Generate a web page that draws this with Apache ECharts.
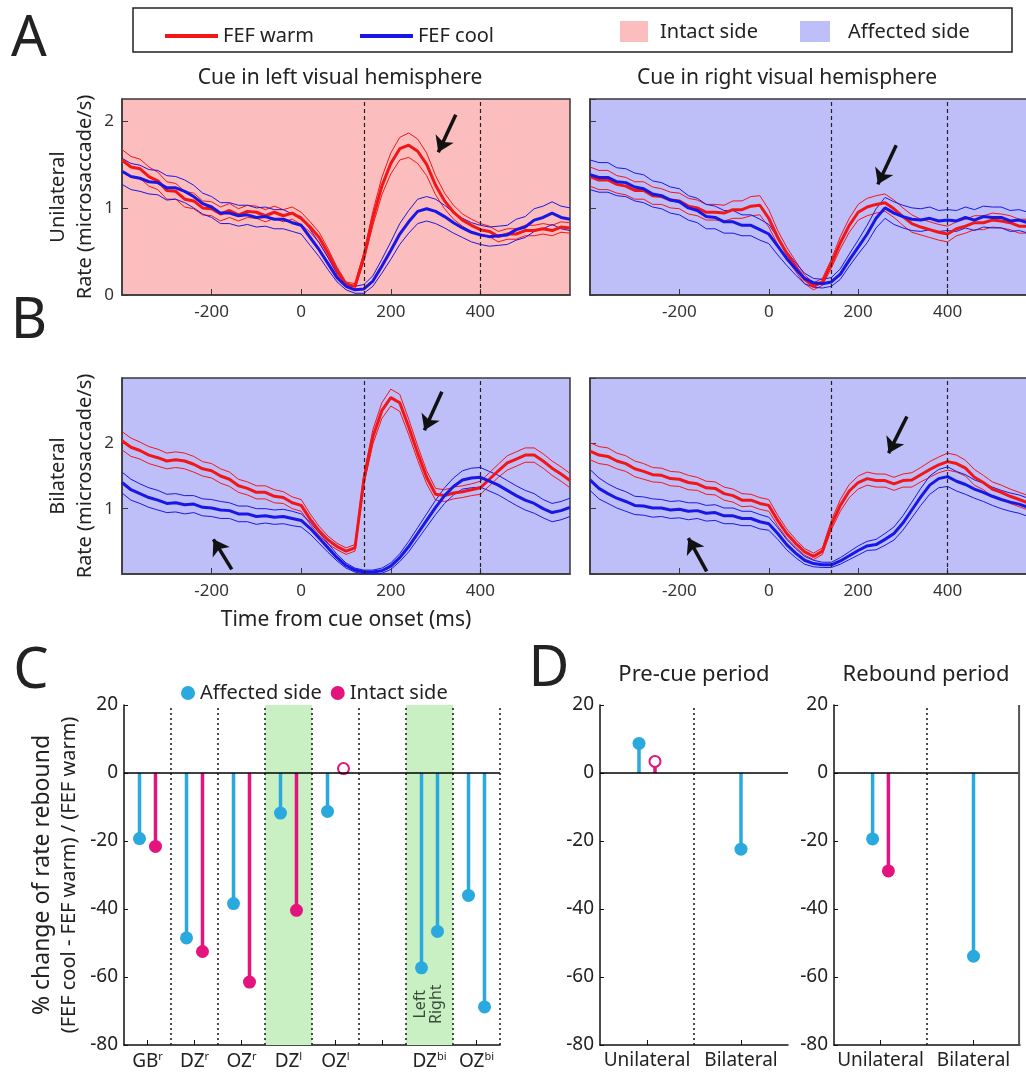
<!DOCTYPE html>
<html>
<head>
<meta charset="utf-8">
<script src="https://cdn.jsdelivr.net/npm/echarts@6/dist/echarts.min.js"></script>
<style>
  html, body { margin: 0; padding: 0; background: #fff; overflow: hidden; }
  #main { width: 1026px; height: 1073px; }
</style>
</head>
<body>
<div id="main"></div>
<script>
// sample times (ms from cue onset)
var timeMs = [
  -400,-380,-360,-340,-320,-300,-280,-260,-240,-220,
  -200,-180,-160,-140,-120,-100,-80,-60,-40,-20,
  0,20,40,60,80,100,120,140,160,180,
  200,220,240,260,280,300,320,340,360,380,
  400,420,440,460,480,500,520,540,560,580,
  600
];

// A, cue left (unilateral): mean rate and SEM
var warmAL = [
  1.55,1.47,1.45,1.36,1.31,1.20,1.19,1.10,1.08,1.00,
  0.99,0.93,0.97,0.92,0.96,0.95,0.91,0.95,0.91,0.94,
  0.88,0.78,0.66,0.48,0.28,0.12,0.10,0.44,0.88,1.25,
  1.51,1.68,1.72,1.65,1.50,1.26,1.08,0.95,0.86,0.80,
  0.75,0.73,0.67,0.70,0.70,0.74,0.74,0.76,0.74,0.78,
  0.77
];
var semWarmAL = [
  0.12,0.12,0.11,0.11,0.10,0.10,0.09,0.09,0.09,0.08,
  0.08,0.08,0.08,0.07,0.07,0.07,0.07,0.07,0.07,0.07,
  0.07,0.06,0.06,0.05,0.04,0.03,0.03,0.05,0.08,0.10,
  0.12,0.13,0.14,0.14,0.13,0.11,0.09,0.08,0.07,0.07,
  0.07,0.06,0.06,0.06,0.06,0.06,0.06,0.06,0.06,0.06,
  0.06
];
var coolAL = [
  1.42,1.36,1.34,1.30,1.29,1.23,1.23,1.19,1.13,1.05,
  1.01,0.94,0.94,0.91,0.92,0.89,0.90,0.87,0.87,0.83,
  0.80,0.66,0.52,0.36,0.20,0.10,0.06,0.07,0.16,0.33,
  0.51,0.70,0.84,0.96,0.99,0.96,0.90,0.83,0.77,0.72,
  0.69,0.67,0.68,0.69,0.75,0.78,0.86,0.89,0.94,0.89,
  0.87
];
var semCoolAL = [
  0.15,0.15,0.15,0.14,0.14,0.14,0.13,0.13,0.13,0.12,
  0.12,0.12,0.12,0.12,0.11,0.11,0.11,0.11,0.11,0.10,
  0.10,0.09,0.08,0.07,0.05,0.04,0.04,0.05,0.06,0.08,
  0.10,0.12,0.13,0.14,0.14,0.14,0.13,0.12,0.11,0.11,
  0.11,0.11,0.11,0.11,0.12,0.12,0.13,0.13,0.13,0.13,
  0.13
];

// A, cue right (unilateral)
var warmAR = [
  1.36,1.32,1.32,1.27,1.25,1.20,1.20,1.14,1.13,1.09,
  1.08,1.02,1.00,0.95,0.95,0.94,0.98,0.98,1.02,1.03,
  0.88,0.66,0.48,0.33,0.18,0.10,0.15,0.36,0.60,0.80,
  0.95,1.01,1.04,1.06,0.99,0.90,0.82,0.78,0.75,0.72,
  0.70,0.76,0.79,0.83,0.83,0.86,0.85,0.83,0.79,0.79,
  0.76
];
var semWarmAR = [
  0.11,0.11,0.11,0.10,0.10,0.10,0.10,0.10,0.09,0.09,
  0.09,0.09,0.09,0.09,0.09,0.09,0.10,0.10,0.11,0.11,
  0.10,0.08,0.07,0.06,0.05,0.04,0.04,0.05,0.07,0.08,
  0.09,0.10,0.10,0.10,0.10,0.10,0.10,0.09,0.09,0.09,
  0.09,0.08,0.08,0.08,0.08,0.08,0.08,0.08,0.08,0.08,
  0.08
];
var coolAR = [
  1.38,1.35,1.35,1.30,1.29,1.24,1.22,1.16,1.14,1.09,
  1.07,1.00,0.97,0.90,0.89,0.84,0.84,0.80,0.80,0.75,
  0.70,0.56,0.42,0.30,0.19,0.14,0.13,0.15,0.24,0.40,
  0.55,0.70,0.88,1.00,0.94,0.90,0.87,0.86,0.88,0.85,
  0.86,0.85,0.89,0.86,0.90,0.89,0.89,0.85,0.86,0.83,
  0.83
];
var semCoolAR = [
  0.17,0.17,0.17,0.16,0.16,0.16,0.16,0.15,0.15,0.15,
  0.15,0.14,0.14,0.14,0.13,0.13,0.13,0.12,0.12,0.12,
  0.11,0.10,0.08,0.07,0.06,0.05,0.05,0.05,0.06,0.07,
  0.08,0.10,0.11,0.12,0.13,0.13,0.13,0.13,0.13,0.12,
  0.12,0.12,0.12,0.12,0.12,0.12,0.12,0.12,0.12,0.12,
  0.12
];

// B, cue left (bilateral)
var warmBL = [
  2.04,1.94,1.89,1.82,1.78,1.73,1.75,1.73,1.68,1.61,
  1.58,1.50,1.45,1.35,1.31,1.25,1.25,1.19,1.17,1.09,
  1.05,0.84,0.66,0.52,0.42,0.35,0.40,1.45,2.10,2.50,
  2.70,2.62,2.25,1.85,1.48,1.22,1.20,1.24,1.26,1.29,
  1.32,1.45,1.58,1.70,1.76,1.82,1.82,1.73,1.62,1.53,
  1.43
];
var semWarmBL = [
  0.14,0.14,0.13,0.13,0.13,0.12,0.12,0.12,0.12,0.11,
  0.11,0.11,0.11,0.10,0.10,0.10,0.10,0.10,0.09,0.09,
  0.09,0.08,0.07,0.06,0.05,0.05,0.05,0.08,0.11,0.12,
  0.13,0.13,0.12,0.11,0.10,0.09,0.09,0.09,0.09,0.09,
  0.10,0.10,0.10,0.11,0.11,0.11,0.11,0.11,0.11,0.11,
  0.11
];
var coolBL = [
  1.40,1.29,1.23,1.17,1.13,1.08,1.09,1.06,1.07,1.02,
  1.01,0.98,0.97,0.92,0.92,0.88,0.89,0.87,0.88,0.85,
  0.82,0.70,0.55,0.40,0.25,0.13,0.06,0.03,0.03,0.05,
  0.12,0.25,0.42,0.62,0.82,1.02,1.20,1.34,1.44,1.47,
  1.48,1.42,1.36,1.28,1.20,1.13,1.08,1.00,0.94,0.97,
  1.02
];
var semCoolBL = [
  0.16,0.16,0.15,0.15,0.15,0.14,0.14,0.14,0.13,0.13,
  0.13,0.13,0.12,0.12,0.12,0.12,0.11,0.11,0.11,0.11,
  0.10,0.09,0.08,0.07,0.05,0.04,0.03,0.03,0.03,0.04,
  0.05,0.06,0.08,0.09,0.10,0.11,0.12,0.13,0.14,0.15,
  0.15,0.15,0.15,0.15,0.15,0.15,0.15,0.14,0.14,0.14,
  0.14
];

// B, cue right (bilateral)
var warmBR = [
  1.88,1.82,1.80,1.73,1.69,1.61,1.57,1.52,1.51,1.46,
  1.45,1.40,1.38,1.32,1.31,1.23,1.20,1.13,1.13,1.08,
  1.05,0.82,0.62,0.47,0.34,0.27,0.35,0.75,1.05,1.27,
  1.40,1.46,1.43,1.43,1.38,1.43,1.44,1.52,1.60,1.67,
  1.72,1.69,1.62,1.48,1.40,1.30,1.25,1.19,1.14,1.09,
  1.05
];
var semWarmBR = [
  0.13,0.13,0.13,0.12,0.12,0.12,0.12,0.11,0.11,0.11,
  0.11,0.11,0.10,0.10,0.10,0.10,0.10,0.10,0.09,0.09,
  0.09,0.08,0.07,0.06,0.05,0.05,0.05,0.07,0.09,0.10,
  0.10,0.10,0.10,0.10,0.10,0.10,0.11,0.11,0.12,0.12,
  0.13,0.13,0.12,0.12,0.11,0.11,0.11,0.11,0.11,0.11,
  0.11
];
var coolBR = [
  1.44,1.31,1.23,1.16,1.11,1.05,1.04,1.01,1.01,0.98,
  0.99,0.96,0.97,0.93,0.94,0.89,0.89,0.85,0.85,0.80,
  0.77,0.62,0.45,0.32,0.21,0.16,0.14,0.14,0.20,0.28,
  0.36,0.43,0.45,0.53,0.62,0.78,0.98,1.18,1.36,1.46,
  1.49,1.42,1.37,1.30,1.25,1.19,1.14,1.10,1.07,1.02,
  0.98
];
var semCoolBR = [
  0.16,0.16,0.15,0.15,0.15,0.14,0.14,0.14,0.13,0.13,
  0.13,0.13,0.12,0.12,0.12,0.12,0.12,0.11,0.11,0.11,
  0.10,0.09,0.08,0.07,0.06,0.05,0.04,0.04,0.05,0.06,
  0.07,0.07,0.08,0.09,0.10,0.11,0.12,0.13,0.14,0.14,
  0.15,0.15,0.15,0.14,0.14,0.14,0.14,0.14,0.14,0.14,
  0.14
];

// arrows: [fromMs, fromRate, toMs, toRate]
var arrowsAL = [[345, 2.07, 306, 1.64]];
var arrowsAR = [[285, 1.72, 244, 1.27]];
var arrowsBL = [[314, 2.79, 275, 2.20], [-155, 0.07, -196, 0.53]];
var arrowsBR = [[309, 2.41, 268, 1.85], [-139, 0.04, -180, 0.55]];
var markTimes = [140, 400];

// C: % change of rate rebound
var cBase = ['GB', 'DZ', 'OZ', 'DZ', 'OZ', '', 'DZ', 'OZ'];
var cSup = ['r', 'r', 'r', 'l', 'l', '', 'bi', 'bi'];
var cAffX = [0.33, 1.33, 2.33, 3.33, 4.33, 6.33, 6.67, 7.33, 7.67];
var cAffY = [-19.3, -48.5, -38.4, -11.8, -11.3, -57.3, -46.6, -36.0, -68.8];
var cIntX = [0.67, 1.67, 2.67, 3.67, 4.67];
var cIntY = [-21.6, -52.5, -61.5, -40.4, 1.3];
var cIntOpen = [false, false, false, false, true];
var cBands = [[3, 4], [6, 7]];
var cSides = [['Left', 6.31, -68], ['Right', 6.64, -68]];

// D: pre-cue and rebound periods
var dCats = ['Unilateral', 'Bilateral'];
var dPreAffX = [0.83, 3.0], dPreAffY = [8.7, -22.4];
var dPreIntX = [1.17], dPreIntY = [3.4], dPreIntOpen = [true];
var dRebAffX = [0.83, 3.0], dRebAffY = [-19.4, -53.9];
var dRebIntX = [1.17], dRebIntY = [-28.8], dRebIntOpen = [false];

var FONT = '"Noto Sans", "DejaVu Sans", sans-serif';
var INK = '#222';
var RED = '#f41616', BLUE = '#1818e6';
var CYAN = '#2aa9de', MAGENTA = '#e3147d';
var PINK = '#fbbdbd', LAVENDER = '#bebef9', GREEN = '#c9f0c3';

function pairs(xs, ys) {
  return xs.map(function (x, i) { return [x, ys[i]]; });
}
function offset(mean, sem, sign) {
  return mean.map(function (m, i) { return +(m + sign * sem[i]).toFixed(3); });
}

var timePanels = [
  { left: 122, top: 99, width: 448, bg: PINK, yMax: 2.25, yLabels: true, zeroLabel: true, yName: 'Unilateral\nRate (microsaccade/s)',
    warm: warmAL, warmSem: semWarmAL, cool: coolAL, coolSem: semCoolAL, arrows: arrowsAL },
  { left: 590, top: 99, width: 447, bg: LAVENDER, yMax: 2.25, yLabels: false,
    warm: warmAR, warmSem: semWarmAR, cool: coolAR, coolSem: semCoolAR, arrows: arrowsAR },
  { left: 122, top: 378, width: 448, bg: LAVENDER, yMax: 3, yLabels: true, zeroLabel: false, yName: 'Bilateral\nRate (microsaccade/s)',
    xName: 'Time from cue onset (ms)',
    warm: warmBL, warmSem: semWarmBL, cool: coolBL, coolSem: semCoolBL, arrows: arrowsBL },
  { left: 590, top: 378, width: 447, bg: LAVENDER, yMax: 3, yLabels: false,
    warm: warmBR, warmSem: semWarmBR, cool: coolBR, coolSem: semCoolBR, arrows: arrowsBR }
];

var grids = [], xAxes = [], yAxes = [], series = [];

function bandSeries(name, color, mean, sem, k, withMarks) {
  var out = [];
  [1, -1, 0].forEach(function (sign) {
    out.push({
      type: 'line', name: name, xAxisIndex: k, yAxisIndex: k,
      symbol: 'none', silent: true,
      data: pairs(timeMs, sign === 0 ? mean : offset(mean, sem, sign)),
      itemStyle: { color: color },
      lineStyle: { color: color, width: sign === 0 ? 3 : 1 },
      z: sign === 0 ? 4 : 3
    });
  });
  if (withMarks) {
    out[2].markLine = {
      silent: true, symbol: 'none', label: { show: false },
      lineStyle: { color: '#222', type: [4, 3], width: 1.2 },
      data: markTimes.map(function (t) { return { xAxis: t }; })
    };
  }
  return out;
}

timePanels.forEach(function (p, k) {
  grids.push({
    left: p.left, top: p.top, width: p.width, height: 196,
    show: true, backgroundColor: p.bg, borderColor: '#3a3a3a', borderWidth: 1.5,
    outerBoundsMode: 'none'
  });
  xAxes.push({
    type: 'value', gridIndex: k, min: -400, max: 600, interval: 200,
    axisLine: { show: true, onZero: false, lineStyle: { color: '#3a3a3a', width: 1.5 } },
    axisTick: { inside: true, length: 6, lineStyle: { color: '#3a3a3a' } },
    axisLabel: { showMinLabel: false, showMaxLabel: false, fontSize: 17, color: '#333', fontFamily: FONT, margin: 9 },
    splitLine: { show: false },
    name: p.xName || '', nameLocation: 'middle', nameGap: 36,
    nameTextStyle: { fontSize: 21, color: INK, fontFamily: FONT }
  });
  yAxes.push({
    type: 'value', gridIndex: k, min: 0, max: p.yMax, interval: 1,
    axisLine: { show: true, onZero: false, lineStyle: { color: '#3a3a3a', width: 1.5 } },
    axisTick: { inside: true, length: 6, lineStyle: { color: '#3a3a3a' } },
    axisLabel: { show: p.yLabels, showMinLabel: !!p.zeroLabel, showMaxLabel: false, fontSize: 17, color: '#333', fontFamily: FONT, margin: 8 },
    splitLine: { show: false },
    name: p.yName || '', nameLocation: 'middle', nameRotate: 90, nameGap: 23,
    nameTextStyle: { fontSize: 20, lineHeight: 27, color: INK, fontFamily: FONT, align: 'center' }
  });
  series = series.concat(bandSeries('FEF warm', RED, p.warm, p.warmSem, k, true));
  series = series.concat(bandSeries('FEF cool', BLUE, p.cool, p.coolSem, k, false));
  series.push({
    type: 'lines', coordinateSystem: 'cartesian2d', xAxisIndex: k, yAxisIndex: k,
    silent: true, symbol: ['none', 'arrow'], symbolSize: 15, z: 6,
    lineStyle: { color: '#111', width: 3.5, opacity: 1 },
    data: p.arrows.map(function (a) { return { coords: [[a[0], a[1]], [a[2], a[3]]] }; })
  });
});

// lollipop panels
var lolliPanels = [
  { left: 124, width: 376, slots: 8, cats: cBase, supFmt: true,
    affX: cAffX, affY: cAffY, intX: cIntX, intY: cIntY, intOpen: cIntOpen,
    seps: [1, 2, 3, 4, 5, 6, 7, 8], bands: cBands, yName: true },
  { left: 600, width: 188, slots: 4, cats: dCats,
    affX: dPreAffX, affY: dPreAffY, intX: dPreIntX, intY: dPreIntY, intOpen: dPreIntOpen,
    seps: [2], bands: [] },
  { left: 834, width: 186, slots: 4, cats: dCats,
    affX: dRebAffX, affY: dRebAffY, intX: dRebIntX, intY: dRebIntY, intOpen: dRebIntOpen,
    seps: [2], bands: [], rightBorder: true }
];

function stemSeries(color, xs, ys, xi, yi) {
  return {
    type: 'custom', xAxisIndex: xi, yAxisIndex: yi, silent: true, z: 3,
    data: pairs(xs, ys),
    renderItem: function (params, api) {
      var a = api.coord([api.value(0), 0]);
      var b = api.coord([api.value(0), api.value(1)]);
      return { type: 'line', shape: { x1: a[0], y1: a[1], x2: b[0], y2: b[1] },
               style: { stroke: color, lineWidth: 3.5 } };
    }
  };
}

function frameSeries(xi, yi, xv) {
  // right frame line: from the axis bottom (-80) to top (20) at x = xv
  return {
    type: 'custom', xAxisIndex: xi, yAxisIndex: yi, silent: true, z: 6, clip: false,
    data: [[xv - 0.02, -80]],
    renderItem: function (params, api) {
      var a = api.coord([api.value(0), api.value(1)]);
      var b = api.coord([api.value(0), 20]);
      return { type: 'line', shape: { x1: a[0], y1: a[1], x2: b[0], y2: b[1] },
               style: { stroke: '#555', lineWidth: 2 } };
    }
  };
}

function dotData(xs, ys, open, color) {
  return xs.map(function (x, i) {
    if (open && open[i]) {
      return { value: [x, ys[i]], symbolSize: 11, itemStyle: { color: '#fff', borderColor: color, borderWidth: 2 } };
    }
    return [x, ys[i]];
  });
}

lolliPanels.forEach(function (p) {
  var g = grids.length;
  grids.push({ left: p.left, top: 705, width: p.width, height: 340, show: false, outerBoundsMode: 'none' });
  xAxes.push({
    type: 'category', gridIndex: g,
    data: p.cats.map(function (c, i) { return p.supFmt ? ((c + cSup[i]) || ('gap' + i)) : c; }),
    boundaryGap: true,
    axisLine: { show: true, onZero: false, lineStyle: { color: '#111', width: 1.5 } },
    axisTick: { show: true, inside: true, alignWithLabel: true, length: 5, lineStyle: { color: '#111' } },
    axisLabel: {
      interval: 0, fontSize: 19, color: INK, fontFamily: FONT, margin: 6,
      formatter: p.supFmt ? function (v, i) {
        return cBase[i] ? '{b|' + cBase[i] + '}{s|' + cSup[i] + '}' : '';
      } : null,
      rich: {
        b: { fontSize: 19, color: INK, fontFamily: FONT, lineHeight: 22 },
        s: { fontSize: 11, color: INK, fontFamily: FONT, lineHeight: 12, verticalAlign: 'top' }
      }
    },
    splitLine: { show: false }
  });
  var valIdx = xAxes.length;
  xAxes.push({ type: 'value', gridIndex: g, min: 0, max: p.slots, show: false, splitLine: { show: false } });
  var yIdx = yAxes.length;
  var yAx = {
    type: 'value', gridIndex: g, min: -80, max: 20, interval: 20,
    axisLine: { show: true, onZero: false, lineStyle: { color: '#111', width: 1.5 } },
    axisTick: { show: true, inside: true, length: 4, lineStyle: { color: '#111' } },
    axisLabel: { fontSize: 19, color: INK, fontFamily: FONT, margin: 6 },
    splitLine: { show: false }
  };
  if (p.yName) {
    yAx.name = '{a|% change of rate rebound}\n{b|(FEF cool - FEF warm) / (FEF warm)}';
    yAx.nameLocation = 'middle';
    yAx.nameRotate = 90;
    yAx.nameGap = 42;
    yAx.nameTextStyle = {
      rich: {
        a: { fontSize: 23, color: INK, fontFamily: FONT, lineHeight: 28 },
        b: { fontSize: 20, color: INK, fontFamily: FONT, lineHeight: 26 }
      }
    };
  }
  yAxes.push(yAx);

  var marks = p.seps.map(function (s) { return { xAxis: s, lineStyle: { type: [2, 3], color: '#222', width: 1.6 } }; });
  marks.push({ yAxis: 0, lineStyle: { type: 'solid', color: '#000', width: 1.5 } });

  series.push({
    type: 'scatter', name: 'Affected side', xAxisIndex: valIdx, yAxisIndex: yIdx,
    symbolSize: 13, itemStyle: { color: CYAN, opacity: 1 }, z: 4, silent: true,
    data: dotData(p.affX, p.affY, null, CYAN),
    markLine: { silent: true, symbol: 'none', label: { show: false }, data: marks },
    markArea: { silent: true, itemStyle: { color: GREEN },
      data: p.bands.map(function (b) { return [{ xAxis: b[0] }, { xAxis: b[1] }]; }) }
  });
  series.push({
    type: 'scatter', name: 'Intact side', xAxisIndex: valIdx, yAxisIndex: yIdx,
    symbolSize: 13, itemStyle: { color: MAGENTA, opacity: 1 }, z: 4, silent: true,
    data: dotData(p.intX, p.intY, p.intOpen, MAGENTA)
  });
  series.push(stemSeries(CYAN, p.affX, p.affY, valIdx, yIdx));
  series.push(stemSeries(MAGENTA, p.intX, p.intY, valIdx, yIdx));
  if (p.rightBorder) series.push(frameSeries(valIdx, yIdx, p.slots));
  if (p.supFmt) {
    series.push({
      type: 'scatter', xAxisIndex: valIdx, yAxisIndex: yIdx, symbolSize: 1, silent: true,
      itemStyle: { color: 'rgba(0,0,0,0)' }, z: 5,
      data: cSides.map(function (s) { return { name: s[0], value: [s[1], s[2]] }; }),
      label: { show: true, position: 'inside', rotate: 90, formatter: '{b}', fontSize: 16, color: '#152015', fontFamily: FONT }
    });
  }
});

function txt(x, y, text, size, align) {
  return { type: 'text', x: x, y: y, silent: true,
    style: { text: text, fontSize: size, fontFamily: FONT, fill: INK, align: align || 'center', verticalAlign: 'middle' } };
}

var chart = echarts.init(document.getElementById('main'), null, { renderer: 'canvas' });
chart.setOption({
  animation: false,
  backgroundColor: '#fff',
  grid: grids,
  xAxis: xAxes,
  yAxis: yAxes,
  legend: [
    { left: 160, top: 21, data: ['FEF warm', 'FEF cool'], icon: 'rect', itemWidth: 53, itemHeight: 4,
      itemGap: 46, selectedMode: false, textStyle: { fontSize: 20, color: INK, fontFamily: FONT } },
    { left: 176, top: 678, data: ['Affected side', 'Intact side'], icon: 'circle', itemWidth: 14, itemHeight: 14,
      itemGap: 9, selectedMode: false, textStyle: { fontSize: 20, color: INK, fontFamily: FONT } }
  ],
  graphic: [
    { type: 'rect', silent: true, shape: { x: 133, y: 8, width: 879, height: 44 },
      style: { fill: 'none', stroke: '#222', lineWidth: 1.5 } },
    { type: 'rect', silent: true, shape: { x: 620, y: 21, width: 28, height: 21 }, style: { fill: PINK } },
    txt(660, 32, 'Intact side', 20, 'left'),
    { type: 'rect', silent: true, shape: { x: 800, y: 21, width: 30, height: 21 }, style: { fill: LAVENDER } },
    txt(848, 32, 'Affected side', 20, 'left'),
    txt(340, 78, 'Cue in left visual hemisphere', 21),
    txt(787, 78, 'Cue in right visual hemisphere', 21),
    txt(694, 675, 'Pre-cue period', 22),
    txt(926, 675, 'Rebound period', 22),
    txt(29, 40, 'A', 56),
    txt(29, 322, 'B', 56),
    txt(31, 672, 'C', 56),
    txt(549, 670, 'D', 56)
  ],
  series: series
});
</script>
</body>
</html>
